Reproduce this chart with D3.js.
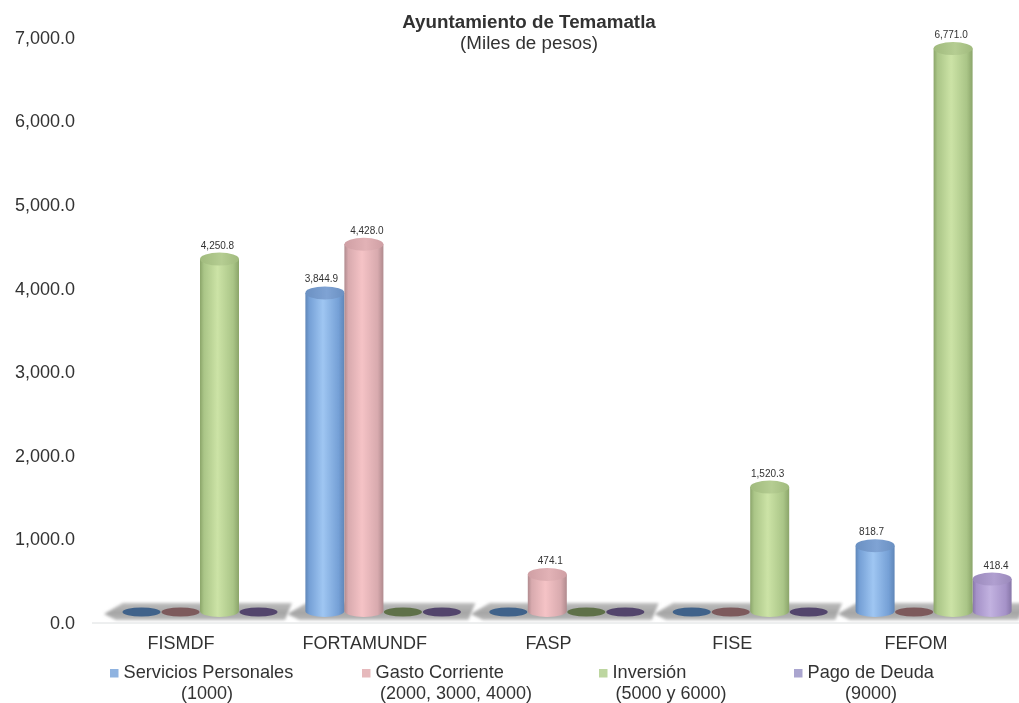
<!DOCTYPE html>
<html><head><meta charset="utf-8">
<script src="https://cdn.jsdelivr.net/npm/d3@7/dist/d3.min.js"></script>
<style>html,body{margin:0;padding:0;background:#fff}svg{display:block}text{font-family:"Liberation Sans",Arial,sans-serif;fill:#333}</style>
</head><body><svg id="c" width="1019" height="703"></svg>
<script>
const categories=["FISMDF","FORTAMUNDF","FASP","FISE","FEFOM"];
const seriesNames=["Servicios Personales","Gasto Corriente","Inversión","Pago de Deuda"];
const seriesCodes=["(1000)","(2000, 3000, 4000)","(5000 y 6000)","(9000)"];
const serviciosPersonales=[0,3844.9,0,0,818.7];
const gastoCorriente=[0,4428.0,474.1,0,0];
const inversion=[4250.8,0,0,1520.3,6771.0];
const pagoDeuda=[0,0,0,0,418.4];
const allSeries=[serviciosPersonales,gastoCorriente,inversion,pagoDeuda];
const colors=[["#75a0d6","#9fc6f2","#5f86b8"],["#d8aaae","#f5c3c6","#b08a8e"],["#aac587","#cce3a6","#8ba56a"],["#a592c8","#c2b2e0","#8776a8"]];
const topColors=[["#6a90c2","#7fa3d4"],["#cf9fa4","#e2b2b6"],["#a0ba7d","#b5cd92"],["#9a89bb","#b09fd0"]];
const legendColors=["#8fb3e0","#e6b9bc","#bdd6a0","#aaa5cf"];
const flat=["#3f628a","#7d5a5c","#5f7148","#52456c"];
const tickVals=[0,1000,2000,3000,4000,5000,6000,7000];
const labelNudge=[-3.5,3,-2,4];

const svg=d3.select("#c");
const defs=svg.append("defs");
defs.append("filter").attr("id","soft").append("feGaussianBlur").attr("stdDeviation",0.5);
defs.append("filter").attr("id","floorBlur").attr("x","-5%").attr("y","-50%").attr("width","110%").attr("height","200%").append("feGaussianBlur").attr("stdDeviation",1.7);
const fg=defs.append("linearGradient").attr("id","floorG").attr("x1",0).attr("y1",0).attr("x2",0).attr("y2",1);
[[0,"#bcbcbc"],[.6,"#a4a4a4"],[1,"#bcbcbc"]].forEach(s=>fg.append("stop").attr("offset",s[0]).attr("stop-color",s[1]));
colors.forEach((c,i)=>{
  const g=defs.append("linearGradient").attr("id","g"+i);
  [[0,c[2]],[.1,c[0]],[.45,c[1]],[.85,c[0]],[1,c[2]]].forEach(s=>g.append("stop").attr("offset",s[0]).attr("stop-color",s[1]));
  const t=defs.append("linearGradient").attr("id","t"+i);
  [[0,topColors[i][0]],[.55,topColors[i][1]],[1,topColors[i][0]]].forEach(s=>t.append("stop").attr("offset",s[0]).attr("stop-color",s[1]));
});

const root=svg.append("g").attr("filter","url(#soft)");

const yAxisScale=d3.scaleLinear().domain([0,7000]).range([622,37]);
const yBar=d3.scaleLinear().domain([0,7000]).range([614,29.5]);
const xLabel=d3.scalePoint().domain(categories).range([181,916]);
const xGroup=d3.scaleBand().domain(categories).range([122,1039]);
const xInner=d3.scaleBand().domain(d3.range(4)).range([0,156]);

const ax=root.append("g").attr("transform","translate(75,0)")
  .call(d3.axisLeft(yAxisScale).tickValues(tickVals).tickFormat(d3.format(",.1f")).tickSize(0).tickPadding(0));
ax.select(".domain").remove();
ax.selectAll("text").style("font-size","18px").attr("dy","0.35em").style("font-family","'Liberation Sans',Arial,sans-serif");

const floor=root.append("g");
categories.forEach(c=>{
  const x0=xGroup(c);
  floor.append("polygon")
    .attr("points",[[x0-18,614],[x0+1,603],[x0+170,603],[x0+163,620],[x0-6,620]].map(p=>p.join(",")).join(" "))
    .attr("fill","url(#floorG)").attr("filter","url(#floorBlur)");
});
root.append("line").attr("x1",92).attr("x2",1019).attr("y1",623).attr("y2",623).attr("stroke","#dcdfe0");

const ry=6.5;
categories.forEach((c,ci)=>{
  const gx=xGroup(c);
  const g=root.append("g");
  [0,1,3,2].sort((a,b)=>(allSeries[a][ci]>0)-(allSeries[b][ci]>0)).forEach(si=>{
    const v=allSeries[si][ci];
    const x=gx+xInner(si), w=xInner.bandwidth(), cx=x+w/2, y0=yBar(0)-3, y1=yBar(v);
    if(v===0){
      g.append("ellipse").attr("cx",cx).attr("cy",y0+1).attr("rx",w/2-.5).attr("ry",4.5).attr("fill",flat[si]);
      return;
    }
    g.append("path")
      .attr("d",`M${x},${y1}L${x},${y0}A${w/2},${ry-.5} 0 0 0 ${x+w},${y0}L${x+w},${y1}Z`)
      .attr("fill",`url(#g${si})`);
    g.append("ellipse").attr("cx",cx).attr("cy",y1).attr("rx",w/2).attr("ry",ry).attr("fill",`url(#t${si})`);
    g.append("text").attr("x",cx+labelNudge[si]).attr("y",y1-10.5).attr("text-anchor","middle").style("font-size","10px").text(d3.format(",.1f")(v));
  });
});

root.append("g").selectAll("text").data(categories).join("text")
  .attr("x",d=>xLabel(d)).attr("y",649).attr("text-anchor","middle").style("font-size","18px").text(d=>d);

root.append("text").attr("x",529).attr("y",28).attr("text-anchor","middle").style("font-size","18.8px").style("font-weight","bold").text("Ayuntamiento de Temamatla");
root.append("text").attr("x",529).attr("y",49).attr("text-anchor","middle").style("font-size","18.8px").text("(Miles de pesos)");

const lx=[110,362,599,794], lc=[207,456,671,871];
seriesNames.forEach((n,i)=>{
  root.append("rect").attr("x",lx[i]).attr("y",669).attr("width",8.5).attr("height",8.5).attr("fill",legendColors[i]);
  root.append("text").attr("x",lx[i]+13.5).attr("y",678).style("font-size","18.2px").text(n);
  root.append("text").attr("x",lc[i]).attr("y",699).attr("text-anchor","middle").style("font-size","18px").text(seriesCodes[i]);
});
</script></body></html>
